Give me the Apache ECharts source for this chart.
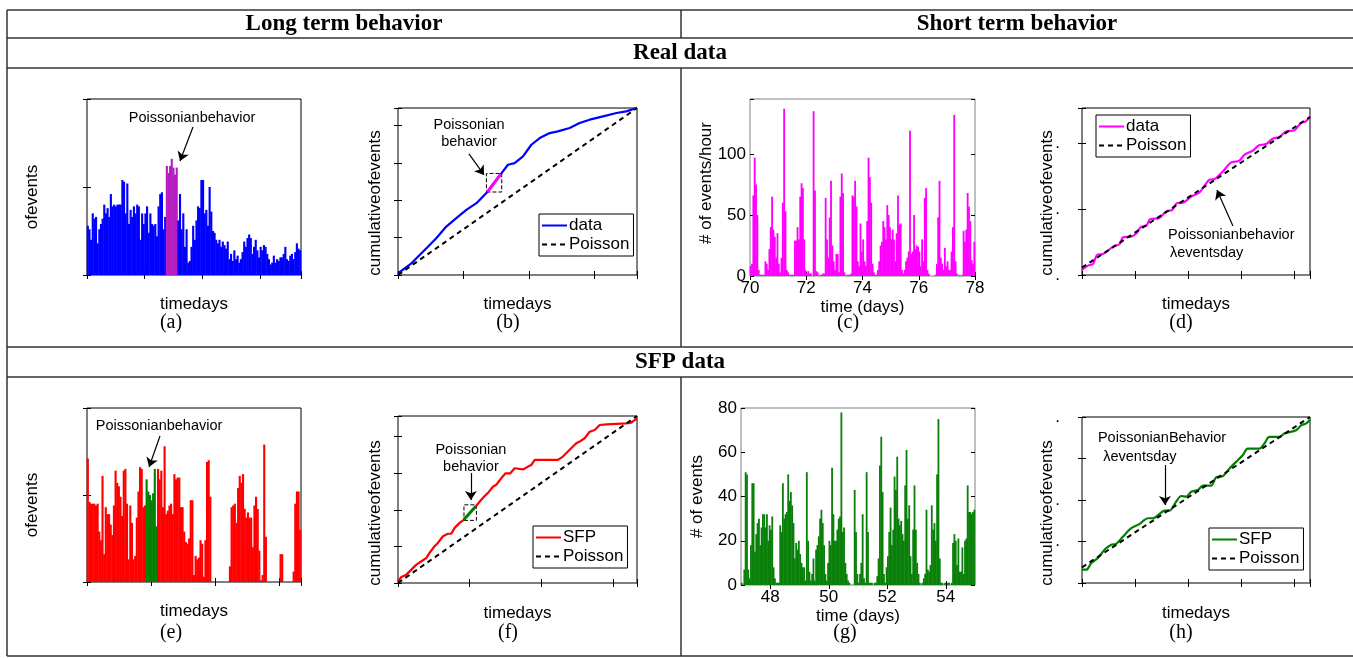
<!DOCTYPE html>
<html>
<head>
<meta charset="UTF-8">
<title>poisson behaviour</title>
<script src="https://cdn.jsdelivr.net/npm/echarts@6/dist/echarts.min.js"></script>
<style>
html,body{margin:0;padding:0;background:#fff;}
#main{width:1353px;height:658px;}
</style>
</head>
<body>
<div id="main"></div>
<script>
// (a) long term, real data (relative height per bin)
var realLong = [28,26,20,35,32,33,18,26,29,32,40,35,38,33,46,39,40,39,40,40,
    40,54,53,35,52,29,37,33,39,35,40,39,20,35,29,35,39,24,35,29,
    28,29,22,39,46,47,26,33,62,58,62,66,61,57,61,31,46,26,35,16,
    26,7,8,16,28,20,31,39,38,54,54,35,37,28,50,36,25,24,20,18,
    20,16,19,17,15,19,9,12,8,14,9,11,7,9,13,19,16,21,23,21,
    12,16,20,14,10,16,14,17,16,12,9,6,7,11,7,9,8,10,10,12,
    16,9,8,11,12,9,13,18,15,14];
var realLongHi = [48, 54];
// (e) long term, SFP data
var sfpLong = [71,46,45,45,45,44,45,29,24,61,16,43,39,39,33,27,44,64,57,55,
    49,38,64,65,45,13,44,34,13,15,37,52,66,65,43,44,59,52,50,47,
    51,65,32,65,59,64,43,78,39,41,44,45,39,62,59,60,60,43,43,29,
    23,22,25,47,47,4,15,13,14,24,22,3,24,69,70,49,0,0,0,0,
    0,0,0,0,0,0,0,9,43,44,45,34,54,61,57,62,42,37,40,37,
    37,20,44,49,42,18,1,4,79,26,0,0,0,0,0,0,0,0,16,16,
    0,0,0,0,0,0,6,45,52,52,30];
var sfpLongHi = [36, 42];
// (c) events per hour, days 70-78
var realDays = [70, 78];
var realDayTicks = [70, 72, 74, 76, 78];
var realHourly = [
    8,10,66,97,75,50,5,1,1,1,1,12,10,5,22,40,65,38,32,15,35,
    10,3,15,60,137,53,5,3,1,1,1,1,29,29,40,30,65,76,72,30,5,
    2,4,2,2,0,135,70,4,3,0,1,1,2,2,64,30,15,48,78,25,12,
    5,18,18,3,65,84,68,3,0,1,1,1,2,66,65,78,57,12,8,43,20,
    30,12,8,45,97,81,60,10,3,1,1,5,12,25,28,45,40,30,58,50,40,
    30,38,30,12,35,66,42,43,5,2,5,12,15,20,119,18,20,50,22,25,24,
    20,8,30,12,64,72,5,2,0,0,0,0,1,10,48,78,15,10,5,23,
    8,12,5,5,20,40,132,12,2,0,1,0,1,37,28,38,68,57,45,13,10,28];
// (g) events per hour, days 47-55
var sfpDays = [47, 55];
var sfpDayTicks = [48, 50, 52, 54];
var sfpHourly = [
    1,0,7,51,50,7,3,18,46,46,15,23,28,30,18,26,32,32,26,32,20,27,
    25,31,8,3,1,1,1,27,24,46,30,32,33,50,38,42,36,28,12,19,16,20,
    14,10,8,8,2,51,20,6,2,5,12,2,16,18,22,30,34,28,18,5,2,10,
    20,18,53,32,20,20,25,30,31,78,24,26,10,5,2,1,0,0,0,43,24,5,
    1,5,10,32,3,1,51,24,1,1,1,0,1,1,4,12,54,67,42,5,1,8,
    13,24,35,18,25,49,43,58,30,27,29,23,20,45,61,30,36,13,5,25,45,25,
    10,5,1,0,1,3,5,34,7,6,9,36,25,28,20,50,75,12,1,1,0,1,
    0,1,1,0,1,19,23,20,9,21,6,6,17,5,20,21,45,33,33,32,33,34];
// (b) cumulative, real data (normalised 0-100)
var realCum = [[0,1],[5.6,7],[11.9,16],[16,22],[20.2,29],[24.4,34],[28.6,39],[32.8,43],
    [37.4,49.7],[43,60.4],[46,66],[48.8,67],[52.3,71],[55.8,78],[59.3,82],[63.5,85],
    [66.9,86],[71.8,88],[76,91],[80.2,93],[85.8,95],[91.4,97],[95.5,98],[100,100]];
var realCumHi = [[37.4,49.7],[43,60.4]];
var realCumBox = [[37,49.7],[43.4,60.8]];
var realPoisson = [[0,0],[100,100]];
// (d) cumulative, short term real data
var realShort = [[0,3],[2.6,5.6],[4.8,6.6],[6.6,12],[9.2,12.6],[11.4,14.6],[13.6,17],[16.5,18.6],
    [18,22.6],[21.6,23],[23.9,25],[26,29],[28.2,29.4],[29.9,33.4],[33.7,34],[36.9,38],
    [39.6,39],[41.6,43],[44.5,43.4],[47.9,47],[51.5,49.4],[53.7,53.4],[55.9,57],[58.1,57.4],
    [60.3,60],[61.8,62],[65.4,67.4],[69,68.4],[71.2,72],[74.9,74.4],[77.5,77.6],[80.7,78.4],
    [83.6,81.6],[86.6,82.6],[89.5,86],[93.1,86.6],[96,91],[98.2,92],[100,95]];
var realShortPoisson = [[0,4.4],[100,94.6]];
// (f) cumulative, SFP data
var sfpCum = [[0,1],[1.4,3.6],[3.5,5],[5.6,8],[7.7,11],[9.8,13],[11.9,15],[13.2,18],[15.3,22],
    [16.7,24],[18.8,28],[20.9,29.5],[22.3,29.5],[23.7,33],[25.8,36],[27.5,37.8],[32.5,45.8],
    [34.2,48.8],[35.8,51.4],[37.7,54],[39.7,57.6],[41.1,58.8],[43.2,62.7],[45,65.7],[47,65.7],
    [48.8,68.7],[52.3,68],[54.4,69.7],[55.8,70.7],[57.2,73.7],[59.3,73.7],[66.9,73.7],[69,75.7],
    [71.1,78.7],[73.2,81.7],[74.6,83.7],[76,84.7],[78.1,86.7],[80.2,90.6],[82.3,91.6],[84.4,94.6],
    [87.2,95],[95.5,95.6],[97.6,96],[100,98.6]];
var sfpCumHi = [[27.5,37.8],[32.5,45.8]];
var sfpCumBox = [[27.6,37.5],[32.8,46.8]];
var sfpPoisson = [[0,0],[100,100]];
// (h) cumulative, short term SFP data
var sfpShort = [[0,8],[1.9,8],[4.1,12],[6.9,15],[9.9,20],[12.8,23],[15,23.6],[18,28],[21.6,33],
    [25.3,35.6],[27.4,38],[28.9,39],[31.1,39],[34,41.6],[36.2,43.6],[38.4,43.6],[41.3,49],
    [43.5,52.4],[45.7,52],[47.9,55],[50.8,56],[53,58.6],[56.6,58.6],[58.8,63.6],[61.8,64.4],
    [64.7,69],[68.3,74],[70.5,77],[72.7,81],[77.8,81],[80,84],[82.2,88],[86.6,88],[88.7,90],
    [93.9,92],[96.1,95],[98.2,96],[100,98.4]];
var sfpShortPoisson = [[0,9.4],[100,100]];

var SANS = '"Liberation Sans", Arial, sans-serif';
var SERIF = '"Liberation Serif", "Times New Roman", serif';

var grids = [
    {left: 87, top: 99, width: 214, height: 176},    // a
    {left: 398, top: 108, width: 239, height: 167},  // b
    {left: 750, top: 99, width: 225, height: 177},   // c
    {left: 1082, top: 108, width: 228, height: 167}, // d
    {left: 87, top: 408, width: 214, height: 174},   // e
    {left: 398, top: 416, width: 239, height: 167},  // f
    {left: 741, top: 408, width: 234, height: 177},  // g
    {left: 1082, top: 417, width: 228, height: 166}  // h
];
grids.forEach(function (g, i) {
    g.show = true;
    g.borderColor = (i == 2 || i == 6) ? '#808080' : '#000';
    g.borderWidth = 1;
    g.backgroundColor = 'transparent';
    g.outerBoundsMode = 'none';
});

var xAxes = [], yAxes = [];
function tick(custom) {
    var t = {show: true, inside: true, length: 4, lineStyle: {color: '#000', width: 1}};
    if (custom) t.customValues = custom;
    return t;
}
function nameStyle(pad) {
    return {fontSize: 17, fontFamily: SANS, color: '#000', padding: pad || 0};
}
function addAxes(gi, xo, yo) {
    var base = {type: 'value', gridIndex: gi, axisLine: {show: false}, splitLine: {show: false},
        axisTick: tick(), axisLabel: {show: false}, nameMoveOverlap: false};
    xAxes.push(Object.assign({}, base, {position: 'bottom'}, xo));
    xAxes.push(Object.assign({}, base, {position: 'top', min: xo.min, max: xo.max, interval: xo.interval,
        axisTick: xo.axisTick || tick()}));
    yAxes.push(Object.assign({}, base, {position: 'left'}, yo));
    yAxes.push(Object.assign({}, base, {position: 'right', min: yo.min, max: yo.max, interval: yo.interval}));
}
function tickLabels(fmt, custom) {
    var l = {show: true, fontSize: 17, fontFamily: SANS, color: '#000', margin: 4, formatter: fmt};
    if (custom) l.customValues = custom;
    return l;
}
function dots(skip) {
    return {show: true, fontSize: 17, fontFamily: SANS, color: '#000', margin: 22,
        formatter: function (v) { return skip.indexOf(v) >= 0 ? '' : '.'; }};
}

// a
addAxes(0, {min: 0, max: realLong.length, interval: 35, name: 'timedays', nameLocation: 'middle', nameGap: 21, nameTextStyle: nameStyle()},
    {min: 0, max: 100, interval: 50, name: 'ofevents', nameLocation: 'middle', nameGap: 46, nameTextStyle: nameStyle([0, 20, 0, 0])});
// b
addAxes(1, {min: 0, max: 100, interval: 27.4, name: 'timedays', nameLocation: 'middle', nameGap: 21, nameTextStyle: nameStyle()},
    {min: 0, max: 100, interval: 22.4, name: 'cumulativeofevents', nameLocation: 'middle', nameGap: 14, nameTextStyle: nameStyle([0, 23, 0, 0])});
// c
addAxes(2, {min: realDays[0], max: realDays[1], interval: 2, name: 'time (days)', nameLocation: 'middle', nameGap: 23, nameTextStyle: nameStyle(),
        axisTick: tick(realDayTicks), axisLabel: tickLabels(function (v) { return v; }, realDayTicks)},
    {min: 0, max: 145, interval: 50, name: '# of events/hour', nameLocation: 'middle', nameGap: 35, nameTextStyle: nameStyle([0, 0, 0, 9]),
        axisLabel: tickLabels(function (v) { return v % 50 === 0 ? v : ''; })});
// d
addAxes(3, {min: 0, max: 100, interval: 23.3, name: 'timedays', nameLocation: 'middle', nameGap: 21, nameTextStyle: nameStyle()},
    {min: 0, max: 100, interval: 39.3, name: 'cumulativeofevents', nameLocation: 'middle', nameGap: 26, nameTextStyle: nameStyle([0, 23, 0, 0]),
        axisLabel: dots([100])});
// e
addAxes(4, {min: 0, max: sfpLong.length, interval: 39.3, name: 'timedays', nameLocation: 'middle', nameGap: 21, nameTextStyle: nameStyle()},
    {min: 0, max: 100, interval: 50, name: 'ofevents', nameLocation: 'middle', nameGap: 46, nameTextStyle: nameStyle([0, 20, 0, 0])});
// f
addAxes(5, {min: 0, max: 100, interval: 30, name: 'timedays', nameLocation: 'middle', nameGap: 22, nameTextStyle: nameStyle()},
    {min: 0, max: 100, interval: 21.9, name: 'cumulativeofevents', nameLocation: 'middle', nameGap: 14, nameTextStyle: nameStyle([0, 27, 0, 0])});
// g
addAxes(6, {min: sfpDays[0], max: sfpDays[1], interval: 1, name: 'time (days)', nameLocation: 'middle', nameGap: 23, nameTextStyle: nameStyle(),
        axisTick: tick(sfpDayTicks), axisLabel: tickLabels(function (v) { return v; }, sfpDayTicks)},
    {min: 0, max: 80, interval: 20, name: '# of events', nameLocation: 'middle', nameGap: 35, nameTextStyle: nameStyle(),
        axisLabel: tickLabels(function (v) { return v; })});
// h
addAxes(7, {min: 0, max: 100, interval: 23.3, name: 'timedays', nameLocation: 'middle', nameGap: 22, nameTextStyle: nameStyle()},
    {min: 0, max: 100, interval: 25, name: 'cumulativeofevents', nameLocation: 'middle', nameGap: 26, nameTextStyle: nameStyle([0, 26, 0, 0]),
        axisLabel: dots([0, 75])});

function barData(vals, x0, span, hi, c1, c2) {
    return vals.map(function (v, i) {
        var d = {value: [x0 + (i + 0.5) * span / vals.length, v]};
        if (hi) d.itemStyle = {color: (i >= hi[0] && i <= hi[1]) ? c2 : c1};
        return d;
    });
}
function bars(gi, data, color, n) {
    return {type: 'bar', xAxisIndex: 2 * gi, yAxisIndex: 2 * gi, data: data,
        barWidth: grids[gi].width / n + 0.5, itemStyle: {color: color}, silent: true};
}
function line(gi, name, data, color, width, dashed, extra) {
    return Object.assign({type: 'line', name: name, xAxisIndex: 2 * gi, yAxisIndex: 2 * gi, data: data,
        symbol: 'none', showSymbol: false, silent: true,
        lineStyle: {color: color, width: width, type: dashed ? [5, 4] : 'solid'},
        itemStyle: {color: color}}, extra || {});
}
function arrow(from, to) {
    return {silent: true, symbol: ['none', 'arrow'], symbolSize: 9, label: {show: false},
        lineStyle: {color: '#000', width: 1.2, type: 'solid'},
        data: [[{coord: from}, {coord: to}]]};
}
function dashBox(b) {
    return {silent: true, label: {show: false},
        itemStyle: {color: 'rgba(0,0,0,0)', borderColor: '#000', borderWidth: 1, borderType: 'dashed'},
        data: [[{coord: b[0]}, {coord: b[1]}]]};
}

var series = [
    // 0 a
    Object.assign(bars(0, barData(realLong, 0, realLong.length, realLongHi, '#0000ff', '#b61cc0'), '#0000ff', realLong.length),
        {markLine: arrow([64.4, 84.1], [56.5, 64.8])}),
    // 1-3 b
    line(1, 'data_b', realCum, '#0000ff', 2.2),
    line(1, 'hi_b', realCumHi, '#ff00ff', 3, false, {markArea: dashBox(realCumBox)}),
    line(1, 'Poisson_b', realPoisson, '#000', 2, true, {markLine: arrow([29.7, 72.5], [36.0, 59.9])}),
    // 4 c
    bars(2, barData(realHourly, realDays[0], realDays[1] - realDays[0]), '#ff00ff', realHourly.length),
    // 5-6 d
    line(3, 'data_d', realShort, '#ff00ff', 2.2, false, {smooth: 0.3}),
    line(3, 'Poisson_d', realShortPoisson, '#000', 2, true, {markLine: arrow([66.2, 29.3], [59.2, 50.9])}),
    // 7 e
    Object.assign(bars(4, barData(sfpLong, 0, sfpLong.length, sfpLongHi, '#ff0000', '#008000'), '#ff0000', sfpLong.length),
        {markLine: arrow([44.7, 83.9], [38.0, 66.1])}),
    // 8-10 f
    line(5, 'SFP_f', sfpCum, '#ff0000', 2.2),
    line(5, 'hi_f', sfpCumHi, '#008000', 3, false, {markArea: dashBox(sfpCumBox)}),
    line(5, 'Poisson_f', sfpPoisson, '#000', 2, true, {markLine: arrow([30.5, 65.9], [30.5, 49.7])}),
    // 11 g
    bars(6, barData(sfpHourly, sfpDays[0], sfpDays[1] - sfpDays[0]), '#0a800a', sfpHourly.length),
    // 12-13 h
    line(7, 'SFP_h', sfpShort, '#008000', 2.2, false, {smooth: 0.3}),
    line(7, 'Poisson_h', sfpShortPoisson, '#000', 2, true, {markLine: arrow([36.4, 71.1], [36.4, 47])})
];

function legend(names, left, top) {
    return {data: names, left: left, top: top, orient: 'vertical', selectedMode: false,
        backgroundColor: '#fff', borderColor: '#000', borderWidth: 1, borderRadius: 0,
        padding: [3, 4, 3, 2], itemGap: 2, itemWidth: 25, itemHeight: 14,
        itemStyle: {opacity: 0},
        textStyle: {fontSize: 17, fontFamily: SANS, color: '#000', padding: [0, 0, 0, -3]},
        formatter: function (n) { return n.split('_')[0]; }};
}

var option = {
    animation: false,
    backgroundColor: '#fff',
    grid: grids,
    xAxis: xAxes,
    yAxis: yAxes,
    legend: [
        legend(['data_b', 'Poisson_b'], 539, 214),
        legend(['data_d', 'Poisson_d'], 1096, 115),
        legend(['SFP_f', 'Poisson_f'], 533, 526),
        legend(['SFP_h', 'Poisson_h'], 1209, 528)
    ],
    series: series
};

var chart = echarts.init(document.getElementById('main'));
chart.setOption(option);

// table frame, headers, panel letters and annotations
var gfx = [];
var LINE = {stroke: '#333', lineWidth: 1.5};
function seg(x1, y1, x2, y2) {
    gfx.push({type: 'line', silent: true, shape: {x1: x1, y1: y1, x2: x2, y2: y2}, style: LINE});
}
var tableX = [7, 681, 1353], tableY = [10, 38, 68, 347, 377, 656];
tableY.forEach(function (y) { seg(tableX[0], y, tableX[2], y); });
seg(tableX[0], tableY[0], tableX[0], tableY[5]);
seg(tableX[1], tableY[0], tableX[1], tableY[1]);
seg(tableX[1], tableY[2], tableX[1], tableY[3]);
seg(tableX[1], tableY[4], tableX[1], tableY[5]);

function txt(s, x, y, font, align) {
    gfx.push({type: 'text', silent: true, x: x, y: y,
        style: {text: s, font: font, fill: '#000', align: align || 'center', verticalAlign: 'middle'}});
}
var HEAD = 'bold 23px ' + SERIF;
txt('Long term behavior', 344, 24, HEAD);
txt('Short term behavior', 1017, 24, HEAD);
txt('Real data', 680, 53, HEAD);
txt('SFP data', 680, 362, HEAD);

var LET = '20px ' + SERIF;
[['(a)', 171, 323], ['(b)', 508, 323], ['(c)', 848, 323], ['(d)', 1181, 323],
 ['(e)', 171, 633], ['(f)', 508, 633], ['(g)', 845, 633], ['(h)', 1181, 633]].forEach(function (l) {
    txt(l[0], l[1], l[2], LET);
});

var NOTE = '14.5px ' + SANS;
var notes = [
    {s: 0, at: [63.8, 89.2], t: 'Poissonianbehavior'},
    {s: 1, at: [29.7, 89.8], t: 'Poissonian'},
    {s: 1, at: [29.7, 79.6], t: 'behavior'},
    {s: 5, at: [37.7, 24], t: 'Poissonianbehavior', a: 'left'},
    {s: 5, at: [38.6, 13.2], t: '\u03bbeventsday', a: 'left'},
    {s: 7, at: [44.1, 89.7], t: 'Poissonianbehavior'},
    {s: 8, at: [30.5, 79.6], t: 'Poissonian'},
    {s: 8, at: [30.5, 69.5], t: 'behavior'},
    {s: 12, at: [35.1, 87.3], t: 'PoissonianBehavior'},
    {s: 12, at: [25.4, 75.9], t: '\u03bbeventsday'}
];
notes.forEach(function (n) {
    var p = chart.convertToPixel({seriesIndex: n.s}, n.at);
    txt(n.t, p[0], p[1], NOTE, n.a);
});

chart.setOption({graphic: gfx});
</script>
</body>
</html>
